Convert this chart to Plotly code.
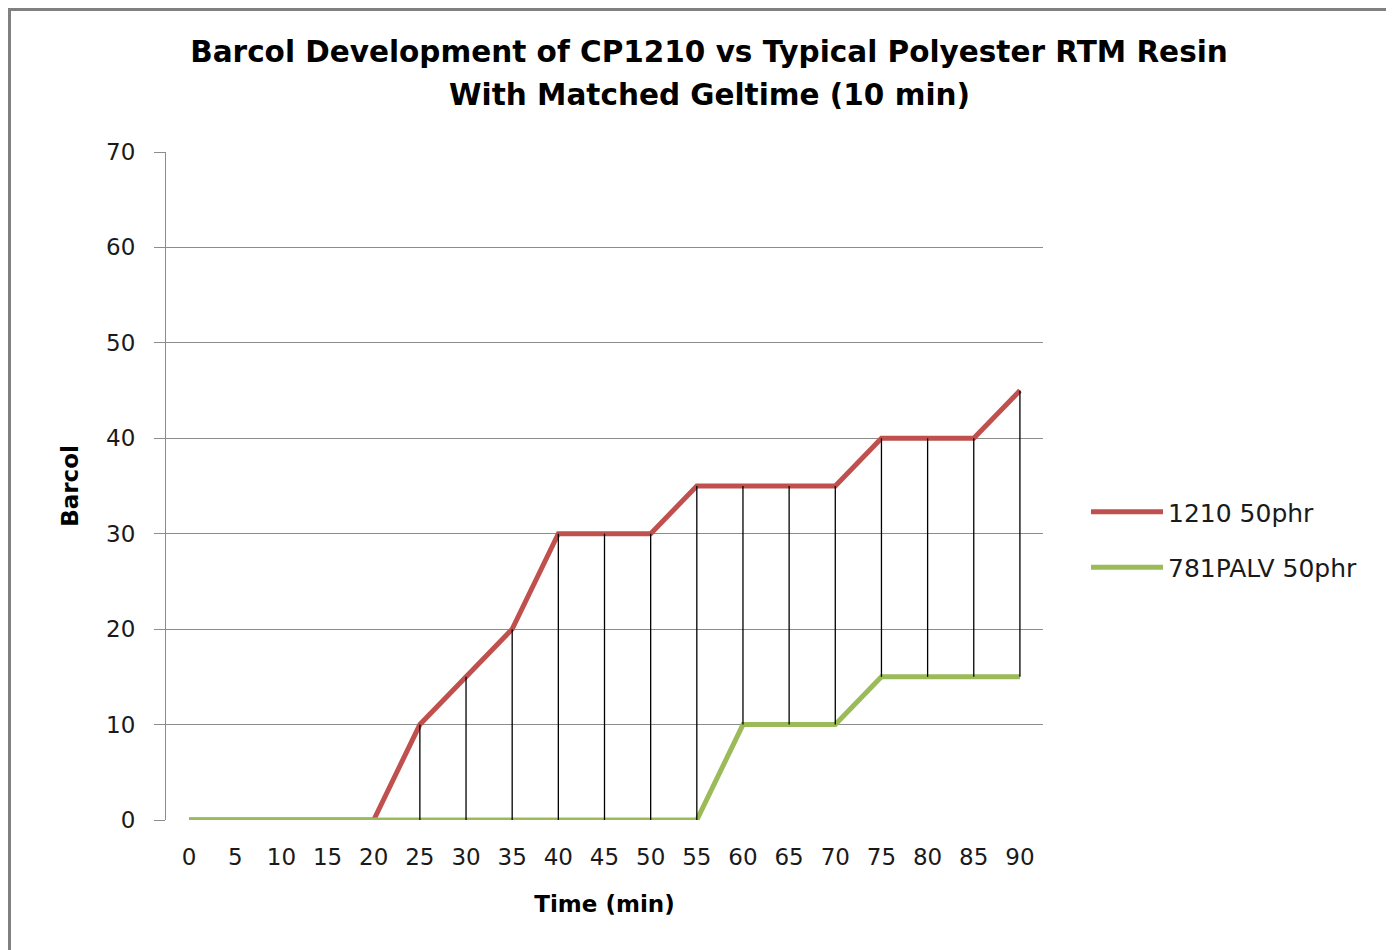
import plotly.graph_objects as go

time_min = [0, 5, 10, 15, 20, 25, 30, 35, 40, 45, 50, 55, 60, 65, 70, 75, 80, 85, 90]
cp1210 = [0, 0, 0, 0, 0, 10, 15, 20, 30, 30, 30, 35, 35, 35, 35, 40, 40, 40, 45]
pal781 = [0, 0, 0, 0, 0, 0, 0, 0, 0, 0, 0, 0, 10, 10, 10, 15, 15, 15, 15]
y_ticks = [0, 10, 20, 30, 40, 50, 60, 70]

FONT = "DejaVu Sans"

# high-low lines
hx, hy = [], []
for t, a, b in zip(time_min, cp1210, pal781):
    hx += [t, t, None]
    hy += [b, a, None]

fig = go.Figure()
fig.add_trace(go.Scatter(x=time_min, y=cp1210, mode="lines", name="1210 50phr",
                         legendgroup="a", line=dict(color="#C0504D", width=5)))
fig.add_trace(go.Scatter(x=time_min, y=pal781, mode="lines", name="781PALV 50phr",
                         legendgroup="b", line=dict(color="#9BBB59", width=5)))
fig.add_trace(go.Scatter(x=hx, y=hy, mode="lines", showlegend=False, hoverinfo="skip",
                         line=dict(color="black", width=1.3)))

OFF = 8  # page body margin
L, R, T, B = 166 - OFF, 1043 - OFF, 152 - OFF, 820 - OFF
W, H = 1394, 950
pw, ph = R - L, B - T

def px2x(p):
    return (p - OFF - L) / pw

def px2y(p):
    return (B - (p - OFF)) / ph

fig.update_layout(
    width=W, height=H,
    margin=dict(l=L, r=W - R, t=T, b=H - B),
    paper_bgcolor="white", plot_bgcolor="white",
    font=dict(family=FONT, color="#1a1a1a", size=23),
    title=dict(text="<b>Barcol Development of CP1210 vs Typical Polyester RTM Resin</b>",
               x=px2x(709), xref="paper", xanchor="center",
               y=1 - (52 - OFF) / H, yref="container", yanchor="middle",
               font=dict(family=FONT, size=29.5, color="black")),
    annotations=[dict(text="<b>With Matched Geltime (10 min)</b>", showarrow=False,
                      x=px2x(709), y=px2y(95), xref="paper", yref="paper",
                      xanchor="center", yanchor="middle",
                      font=dict(family=FONT, size=29.5, color="black"))],
    xaxis=dict(range=[-2.5, 92.5], tickvals=time_min, ticktext=[str(t) for t in time_min],
               showgrid=False, zeroline=False, showline=False, ticks="",
               tickfont=dict(size=23), ticklabelstandoff=21,
               title=dict(text="<b>Time (min)</b>", font=dict(size=23, color="black"), standoff=26)),
    yaxis=dict(range=[0, 70], tickvals=y_ticks, showgrid=True, gridcolor="#8c8c8c", gridwidth=1,
               zeroline=False, showline=True, linecolor="#8c8c8c", linewidth=1,
               ticks="outside", ticklen=11, tickcolor="#8c8c8c",
               tickfont=dict(size=23), ticklabelstandoff=14,
               title=dict(text="<b>Barcol</b>", font=dict(size=23, color="black"), standoff=21)),
    legend=dict(x=px2x(1086), y=px2y(489), xanchor="left", yanchor="top",
                font=dict(size=25), tracegroupgap=20, itemwidth=72,
                bgcolor="rgba(0,0,0,0)"),
    shapes=[dict(type="rect", xref="paper", yref="paper",
                 x0=px2x(9.5), x1=px2x(1410), y0=px2y(9.5), y1=px2y(970),
                 line=dict(color="#808080", width=3), layer="below")],
)

fig.write_html("out.html")
